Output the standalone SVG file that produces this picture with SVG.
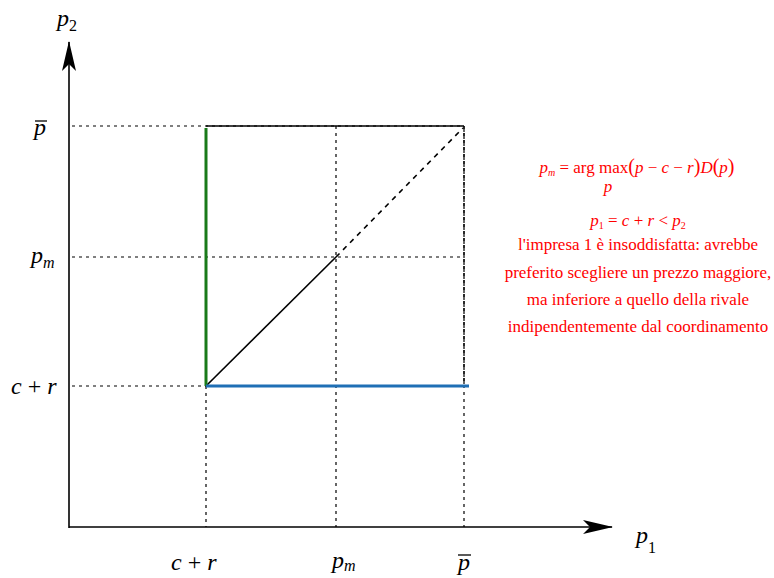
<svg xmlns="http://www.w3.org/2000/svg" width="774" height="578" viewBox="0 0 774 578">
<style>
.ax{stroke:#000;stroke-width:1.6;fill:none}
.dot{stroke:#000;stroke-width:1.2;stroke-dasharray:3,4;fill:none}
.lab{font-family:"Liberation Serif",serif;font-style:italic;font-size:24px;fill:#000}
.sub{font-size:16px}
.red{font-family:"Liberation Serif",serif;font-size:17px;fill:#ff0000;text-anchor:middle}
.redi{font-style:italic}
</style>
<defs>
<marker id="ahb" markerWidth="30" markerHeight="14" refX="29" refY="7" orient="auto" markerUnits="userSpaceOnUse">
<path d="M0,0 L30,7 L0,14 L7,7 Z" fill="#000"/>
</marker>
</defs>
<g id="connectors">
<line class="dot" x1="72" y1="126" x2="463" y2="126"/>
<line class="dot" x1="72" y1="257" x2="463" y2="257"/>
<line class="dot" x1="72" y1="386" x2="206" y2="386"/>
<line class="dot" x1="206" y1="386" x2="206" y2="527"/>
<line class="dot" x1="336" y1="126" x2="336" y2="527"/>
<line class="dot" x1="464" y1="126" x2="464" y2="527"/>
<line x1="206" y1="126" x2="464" y2="126" stroke="#000" stroke-width="1.4"/>
<line x1="464" y1="126" x2="464" y2="386" stroke="#000" stroke-width="1.2" stroke-dasharray="6,1"/>
<line x1="206" y1="386" x2="336" y2="257" stroke="#000" stroke-width="1.6"/>
<line x1="336" y1="257" x2="463" y2="128" stroke="#000" stroke-width="1.6" stroke-dasharray="5,5"/>
<line x1="206" y1="128" x2="206" y2="386" stroke="#1a7a1a" stroke-width="3"/>
<line x1="206" y1="386" x2="469" y2="386" stroke="#1f6fb5" stroke-width="3"/>
<line class="ax" x1="69" y1="528" x2="69" y2="42" marker-end="url(#ahb)"/>
<line class="ax" x1="69" y1="527" x2="612" y2="527" marker-end="url(#ahb)"/>
</g>
<g id="axis-labels">
<text class="lab" x="57" y="26" font-size="27">p<tspan class="sub" dy="5" font-style="normal" font-size="20">2</tspan></text>
<text class="lab" x="636" y="543" font-size="27">p<tspan class="sub" dy="10" font-style="normal" font-size="20">1</tspan></text>
<text class="lab" x="34" y="135">p</text>
<line x1="35" y1="121" x2="47" y2="121" stroke="#000" stroke-width="1.3"/>
<text class="lab" x="31" y="263">p<tspan class="sub" dy="5">m</tspan></text>
<text class="lab" x="11" y="394">c<tspan font-style="normal"> + </tspan>r</text>
<text class="lab" x="171" y="570">c<tspan font-style="normal"> + </tspan>r</text>
<text class="lab" x="332" y="568">p<tspan class="sub" dy="3">m</tspan></text>
<text class="lab" x="458" y="570">p</text>
<line x1="458" y1="555" x2="471" y2="555" stroke="#000" stroke-width="1.3"/>
</g>
<g id="annotation">
<text class="red" x="637" y="173"><tspan class="redi">p</tspan><tspan font-size="10" class="redi" dy="3">m</tspan><tspan dy="-3"> = arg max</tspan><tspan font-size="20">(</tspan><tspan class="redi">p</tspan> − <tspan class="redi">c</tspan> − <tspan class="redi">r</tspan><tspan font-size="20">)</tspan><tspan class="redi">D</tspan><tspan font-size="20">(</tspan><tspan class="redi">p</tspan><tspan font-size="20">)</tspan></text>
<text class="red redi" x="608" y="192" font-size="9">p</text>
<text class="red" x="638" y="226"><tspan class="redi">p</tspan><tspan font-size="10" dy="3">1</tspan><tspan dy="-3"> = </tspan><tspan class="redi">c</tspan> + <tspan class="redi">r</tspan> &lt; <tspan class="redi">p</tspan><tspan font-size="10" dy="3">2</tspan></text>
<text class="red" x="638" y="250">l'impresa 1 è  insoddisfatta: avrebbe</text>
<text class="red" x="638" y="278">preferito scegliere un prezzo maggiore,</text>
<text class="red" x="638" y="305">ma inferiore a quello della rivale</text>
<text class="red" x="638" y="332">indipendentemente dal coordinamento</text>
</g>
</svg>
